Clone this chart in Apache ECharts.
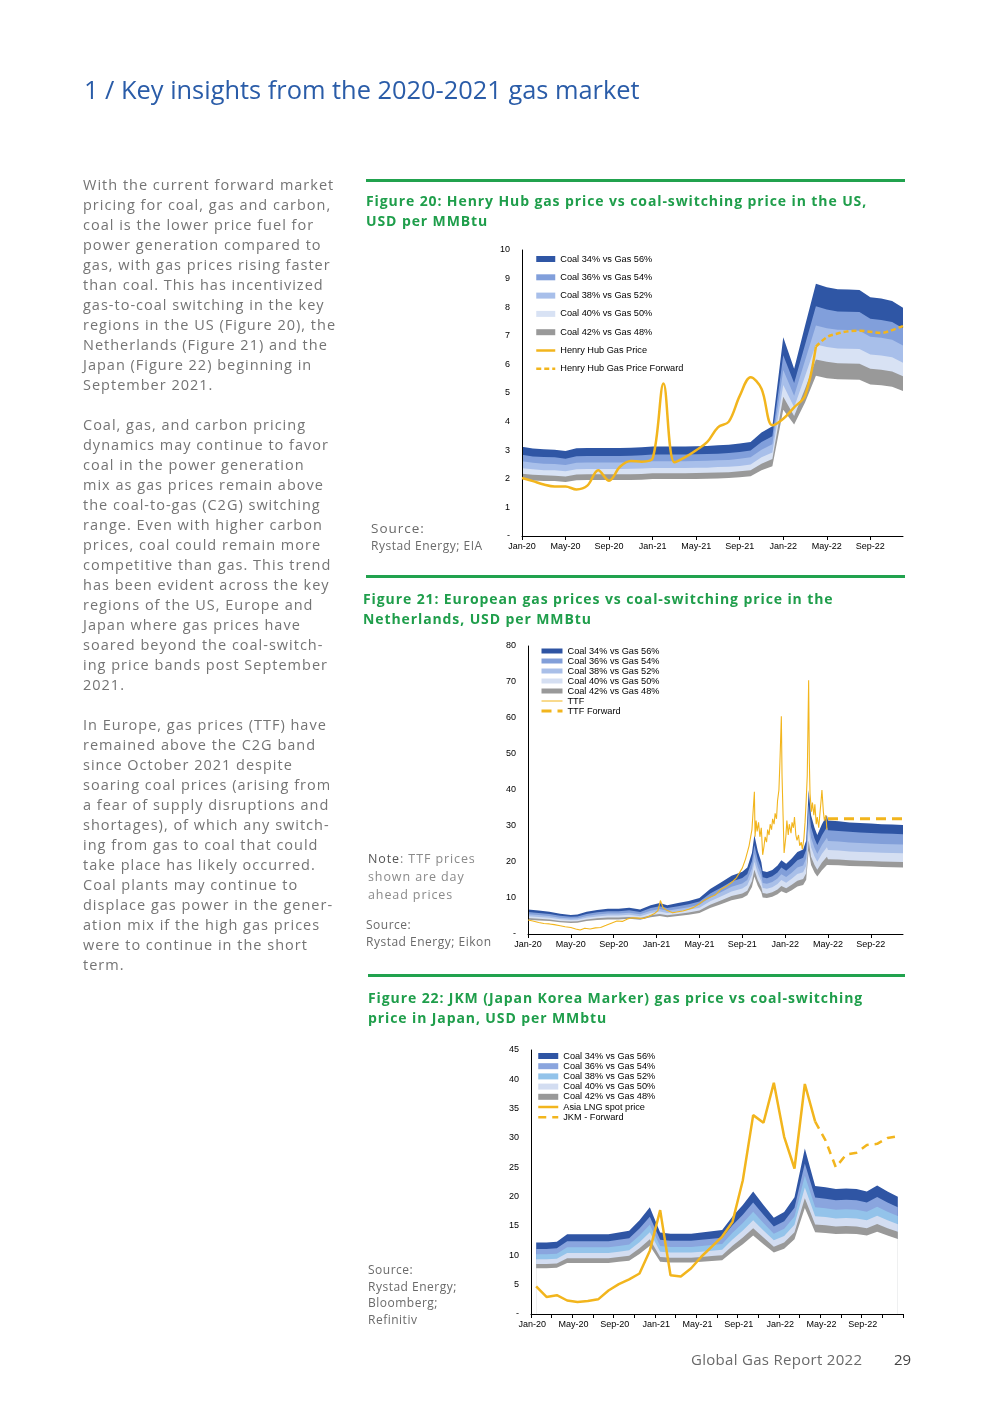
<!DOCTYPE html>
<html><head><meta charset="utf-8">
<script src="https://cdn.jsdelivr.net/npm/echarts@6/dist/echarts.min.js"></script>
<style>
html,body{margin:0;padding:0;background:#fff;}
body{width:987px;height:1403px;position:relative;overflow:hidden;font-family:'Open Sans',sans-serif;}
#chart{position:absolute;left:0;top:0;width:987px;height:1403px;}
.t{position:absolute;white-space:nowrap;}
#title{left:84px;top:74px;font-size:25.4px;line-height:30px;color:#2a5ca8;}
#body{left:83px;top:175px;font-size:14.5px;line-height:20px;color:#747474;letter-spacing:1px;}
.rule{position:absolute;height:3px;background:#21a24e;}
.ft{font-size:14px;line-height:20px;font-weight:bold;color:#1f9e4b;letter-spacing:0.9px;}
.src{color:#6a6a6a;letter-spacing:0.5px;}
</style></head><body>
<div id="chart"></div>
<div class="t" id="title">1 / Key insights from the 2020-2021 gas market</div>
<div class="t" id="body">With the current forward market<br>pricing for coal, gas and carbon,<br>coal is the lower price fuel for<br>power generation compared to<br>gas, with gas prices rising faster<br>than coal. This has incentivized<br>gas-to-coal switching in the key<br>regions in the US (Figure 20), the<br>Netherlands (Figure 21) and the<br>Japan (Figure 22) beginning in<br>September 2021.<br><br>Coal, gas, and carbon pricing<br>dynamics may continue to favor<br>coal in the power generation<br>mix as gas prices remain above<br>the coal-to-gas (C2G) switching<br>range. Even with higher carbon<br>prices, coal could remain more<br>competitive than gas. This trend<br>has been evident across the key<br>regions of the US, Europe and<br>Japan where gas prices have<br>soared beyond the coal-switch-<br>ing price bands post September<br>2021.<br><br>In Europe, gas prices (TTF) have<br>remained above the C2G band<br>since October 2021 despite<br>soaring coal prices (arising from<br>a fear of supply disruptions and<br>shortages), of which any switch-<br>ing from gas to coal that could<br>take place has likely occurred.<br>Coal plants may continue to<br>displace gas power in the gener-<br>ation mix if the high gas prices<br>were to continue in the short<br>term.</div>

<div class="rule" style="left:366px;top:179px;width:539px;"></div>
<div class="t ft" style="left:366px;top:191px;">Figure 20: Henry Hub gas price vs coal-switching price in the US,<br>USD per MMBtu</div>
<div class="t src" style="left:371px;top:519px;font-size:13.5px;line-height:18px;letter-spacing:1px;">Source:</div>
<div class="t src" style="left:371px;top:537px;font-size:12px;line-height:18px;">Rystad Energy; EIA</div>

<div class="rule" style="left:366px;top:575px;width:539px;"></div>
<div class="t ft" style="left:363px;top:589px;">Figure 21: European gas prices vs coal-switching price in the<br>Netherlands, USD per MMBtu</div>
<div class="t src" style="left:368px;top:850px;font-size:12.5px;line-height:18px;letter-spacing:0.9px;color:#8a8a8a;"><span style="color:#555;">Note</span>: TTF prices<br>shown are day<br>ahead prices</div>
<div class="t src" style="left:366px;top:916px;font-size:12px;line-height:17px;">Source:<br>Rystad Energy; Eikon</div>

<div class="rule" style="left:368px;top:974px;width:537px;"></div>
<div class="t ft" style="left:368px;top:988px;">Figure 22: JKM (Japan Korea Marker) gas price vs coal-switching<br>price in Japan, USD per MMbtu</div>
<div class="t src" style="left:368px;top:1262px;font-size:12px;line-height:16.7px;">Source:<br>Rystad Energy;<br>Bloomberg;<br>Refinitiv</div>

<div class="t" style="left:691px;top:1349px;font-size:15px;line-height:20px;color:#6a6a6a;letter-spacing:0.3px;">Global Gas Report 2022</div>
<div class="t" style="left:894px;top:1349px;font-size:15px;line-height:20px;color:#444;">29</div>

<script>
// ---------- shared categories ----------
const months = ['Jan-20','Feb-20','Mar-20','Apr-20','May-20','Jun-20','Jul-20','Aug-20','Sep-20','Oct-20','Nov-20','Dec-20',
  'Jan-21','Feb-21','Mar-21','Apr-21','May-21','Jun-21','Jul-21','Aug-21','Sep-21','Oct-21','Nov-21','Dec-21',
  'Jan-22','Feb-22','Mar-22','Apr-22','May-22','Jun-22','Jul-22','Aug-22','Sep-22','Oct-22','Nov-22','Dec-22'];
const bandNames = ['Coal 34% vs Gas 56%','Coal 36% vs Gas 54%','Coal 38% vs Gas 52%','Coal 40% vs Gas 50%','Coal 42% vs Gas 48%'];

// ---------- Figure 20: US (monthly) ----------
const us34 = [3.12,3.06,3.03,3.02,2.97,3.07,3.08,3.08,3.08,3.08,3.09,3.10,3.13,3.13,3.13,3.13,3.14,3.15,3.17,3.19,3.23,3.29,3.62,3.84,6.95,5.85,7.35,8.82,8.70,8.63,8.62,8.60,8.35,8.30,8.22,7.98];
const us36 = [2.84,2.78,2.76,2.75,2.70,2.79,2.80,2.80,2.80,2.80,2.81,2.82,2.85,2.85,2.85,2.85,2.86,2.87,2.88,2.90,2.94,2.99,3.29,3.49,6.32,5.35,6.69,8.03,7.92,7.85,7.84,7.83,7.60,7.55,7.48,7.26];
const us38 = [2.61,2.56,2.53,2.52,2.48,2.56,2.57,2.57,2.57,2.57,2.58,2.59,2.61,2.61,2.61,2.61,2.62,2.63,2.65,2.66,2.70,2.75,3.02,3.21,5.80,4.90,6.14,7.36,7.26,7.21,7.20,7.18,6.97,6.93,6.86,6.66];
const us40 = [2.37,2.33,2.30,2.30,2.26,2.33,2.34,2.34,2.34,2.34,2.35,2.36,2.38,2.38,2.38,2.38,2.39,2.39,2.41,2.42,2.45,2.50,2.75,2.92,5.28,4.50,5.59,6.70,6.61,6.56,6.55,6.54,6.35,6.31,6.25,6.06];
const us42 = [2.18,2.14,2.12,2.11,2.08,2.15,2.16,2.16,2.16,2.16,2.16,2.17,2.19,2.19,2.19,2.19,2.20,2.21,2.22,2.23,2.26,2.30,2.53,2.69,4.87,4.20,5.15,6.17,6.09,6.04,6.03,6.02,5.85,5.81,5.75,5.59];
const usBase = [1.98,1.94,1.92,1.92,1.89,1.95,1.96,1.96,1.96,1.96,1.96,1.97,1.99,1.99,1.99,1.99,1.99,2.00,2.01,2.03,2.05,2.09,2.30,2.44,4.41,3.90,4.67,5.60,5.52,5.48,5.47,5.46,5.30,5.27,5.22,5.07];
const hhPrice = [2.03,1.92,1.80,1.73,1.73,1.63,1.76,2.30,1.93,2.42,2.62,2.60,2.71,5.33,2.58,2.76,3.00,3.28,3.80,4.00,4.90,5.55,5.15,3.87,4.10,4.50,4.90,6.62,null,null,null,null,null,null,null,null];
const hhForward = [null,null,null,null,null,null,null,null,null,null,null,null,null,null,null,null,null,null,null,null,null,null,null,null,null,null,null,6.62,6.95,7.08,7.16,7.18,7.14,7.10,7.20,7.34];

// ---------- Figure 21: Netherlands ----------
const nlDates = ['2020-01-01','2020-02-01','2020-03-01','2020-04-01','2020-05-01','2020-05-20','2020-06-15','2020-07-15','2020-08-15','2020-09-15',
  '2020-10-15','2020-11-15','2020-12-15','2021-01-10','2021-02-01','2021-03-01','2021-04-01','2021-05-01','2021-06-01','2021-07-01',
  '2021-08-01','2021-09-01','2021-09-15','2021-09-28','2021-10-05','2021-10-15','2021-10-25','2021-10-29','2021-11-10','2021-11-25',
  '2021-12-10','2021-12-21','2022-01-04','2022-01-20','2022-02-05','2022-02-20','2022-02-28','2022-03-07','2022-03-14','2022-03-24',
  '2022-04-01','2022-04-14','2022-04-28','2022-05-01','2022-06-01','2022-07-01','2022-08-01','2022-09-01','2022-10-01','2022-11-01','2022-12-01'];
const nl34 = [6.8,6.5,6.2,5.6,5.3,5.4,6.2,6.7,7.0,7.0, 7.3,6.8,8.0,8.6,8.0,8.6,9.2,10.0,12.5,14.3, 16.2,17.3,18.5,22.5,27.5,23.0,20.0,17.5,17.2,17.8, 19.0,20.5,19.5,21.0,22.8,23.5,26.0,40.0,33.0,29.5, 27.5,30.5,33.0,31.5,31.3,31.0,30.8,30.7,30.5,30.4,30.3];
const nl36 = [6.12,5.85,5.58,5.04,4.77,4.86,5.58,6.03,6.30,6.30, 6.57,6.12,7.20,7.74,7.20,7.74,8.28,9.00,11.25,12.87, 14.58,15.57,16.65,20.25,24.75,20.70,18.00,15.75,15.48,16.02, 17.10,18.45,17.55,18.90,20.52,21.15,23.40,36.00,29.70,26.55, 24.75,27.45,29.70,28.82,28.64,28.37,28.18,28.09,27.91,27.82,27.72];
const nl38 = [5.51,5.27,5.02,4.54,4.29,4.37,5.02,5.43,5.67,5.67, 5.91,5.51,6.48,6.97,6.48,6.97,7.45,8.10,10.13,11.58, 13.12,14.01,14.99,18.23,22.28,18.63,16.20,14.18,13.93,14.42, 15.39,16.61,15.80,17.01,18.47,19.04,21.06,32.40,26.73,23.90, 22.28,24.71,26.73,25.83,25.67,25.42,25.26,25.17,25.01,24.93,24.85];
const nl40 = [4.96,4.75,4.53,4.09,3.87,3.94,4.53,4.89,5.11,5.11, 5.33,4.96,5.84,6.28,5.84,6.28,6.72,7.30,9.13,10.44, 11.83,12.63,13.51,16.43,20.08,16.79,14.60,12.78,12.56,12.99, 13.87,14.97,14.24,15.33,16.64,17.16,18.98,29.20,24.09,21.54, 20.08,22.27,24.09,23.31,23.16,22.94,22.79,22.72,22.57,22.50,22.42];
const nl42 = [4.42,4.23,4.03,3.64,3.45,3.51,4.03,4.36,4.55,4.55, 4.75,4.42,5.20,5.59,5.20,5.59,5.98,6.50,8.13,9.30, 10.53,11.25,12.03,14.63,17.88,14.95,13.00,11.38,11.18,11.57, 12.35,13.33,12.68,13.65,14.82,15.28,16.90,26.00,21.45,19.18, 17.88,19.83,21.45,20.79,20.66,20.46,20.33,20.26,20.13,20.06,20.00];
const nlBase = [3.94,3.77,3.60,3.25,3.07,3.13,3.60,3.89,4.06,4.06, 4.23,3.94,4.64,4.99,4.64,4.99,5.34,5.80,7.25,8.29, 9.40,10.03,10.73,13.05,15.95,13.34,11.60,10.15,9.98,10.32, 11.02,11.89,11.31,12.18,13.22,13.63,15.08,23.20,19.14,17.11, 15.95,17.69,19.14,19.22,19.09,18.91,18.79,18.73,18.61,18.54,18.48];
const ttfDaily = [['2020-01-01',3.9],['2020-01-15',3.6],['2020-02-01',3.2],['2020-02-15',2.9],['2020-03-01',2.8],['2020-03-15',2.6],['2020-04-01',2.3],['2020-04-15',2.0],
  ['2020-05-01',1.8],['2020-05-15',1.4],['2020-05-28',1.1],['2020-06-10',1.6],['2020-06-25',1.4],['2020-07-10',1.7],['2020-07-25',1.8],['2020-08-10',2.4],
  ['2020-08-25',3.0],['2020-09-10',3.6],['2020-09-25',3.5],['2020-10-10',4.2],['2020-10-25',4.5],['2020-11-10',4.4],['2020-11-25',4.3],['2020-12-10',4.9],
  ['2020-12-25',5.6],['2021-01-05',6.5],['2021-01-12',9.3],['2021-01-20',7.3],['2021-02-01',6.5],['2021-02-15',5.9],['2021-03-01',6.2],['2021-03-15',6.4],
  ['2021-04-01',6.9],['2021-04-15',7.4],['2021-05-01',8.4],['2021-05-15',9.4],['2021-06-01',10.2],['2021-06-15',10.8],['2021-07-01',12.4],['2021-07-15',13.1],
  ['2021-08-01',14.3],['2021-08-15',15.6],['2021-09-01',18.3],['2021-09-10',20.8],['2021-09-20',24.5],['2021-09-28',29.0],['2021-10-05',39.5],['2021-10-07',27.0],
  ['2021-10-10',31.5],['2021-10-13',28.5],['2021-10-17',31.0],['2021-10-21',27.0],['2021-10-25',29.5],['2021-10-29',22.0],['2021-11-02',24.5],['2021-11-05',27.0],
  ['2021-11-09',25.5],['2021-11-12',29.0],['2021-11-16',27.5],['2021-11-19',30.5],['2021-11-23',29.0],['2021-11-26',32.0],['2021-11-30',30.5],['2021-12-03',33.5],
  ['2021-12-07',32.0],['2021-12-10',37.0],['2021-12-14',40.0],['2021-12-17',48.0],['2021-12-21',60.5],['2021-12-23',44.0],['2021-12-26',33.0],['2021-12-29',22.5],
  ['2022-01-03',27.0],['2022-01-06',31.5],['2022-01-10',27.5],['2022-01-13',30.5],['2022-01-18',28.0],['2022-01-21',31.0],['2022-01-25',29.5],['2022-01-28',32.5],
  ['2022-02-01',27.5],['2022-02-04',26.0],['2022-02-08',27.5],['2022-02-11',24.5],['2022-02-15',25.5],['2022-02-18',23.5],['2022-02-22',26.5],['2022-02-25',31.0],
  ['2022-02-28',37.0],['2022-03-03',44.0],['2022-03-07',70.5],['2022-03-09',48.0],['2022-03-11',39.0],['2022-03-15',34.0],['2022-03-18',36.5],['2022-03-22',33.0],
  ['2022-03-25',36.0],['2022-03-29',30.5],['2022-04-01',32.5],['2022-04-05',29.5],['2022-04-08',33.0],['2022-04-12',37.5],['2022-04-14',40.0],['2022-04-18',34.0],
  ['2022-04-21',31.5],['2022-04-25',33.0],['2022-04-28',29.0]];
const ttfForward = [['2022-05-01',32.0],['2022-06-01',32.0],['2022-07-01',32.0],['2022-08-01',32.0],['2022-09-01',32.0],['2022-10-01',32.0],['2022-11-01',32.0],['2022-12-01',32.0]];

// ---------- Figure 22: Japan (monthly) ----------
const jp34 = [12.2,12.2,12.3,13.6,13.6,13.6,13.6,13.6,13.9,14.2,16.0,18.2,13.9,13.7,13.7,13.7,13.9,14.1,14.3,16.6,18.6,20.9,18.6,16.4,17.4,19.9,28.2,21.8,21.6,21.3,21.4,21.3,20.9,21.9,20.9,20.0];
const jp36 = [11.10,11.10,11.19,12.38,12.38,12.38,12.38,12.38,12.65,12.92,14.56,16.56,12.65,12.47,12.47,12.47,12.65,12.83,13.01,15.11,16.93,19.02,16.93,14.92,15.83,18.11,25.66,19.84,19.66,19.38,19.47,19.38,19.02,19.93,19.02,18.20];
const jp38 = [10.19,10.19,10.27,11.36,11.36,11.36,11.36,11.36,11.61,11.86,13.36,15.20,11.61,11.44,11.44,11.44,11.61,11.77,11.94,13.86,15.53,17.45,15.53,13.69,14.53,16.62,23.55,18.20,18.04,17.79,17.87,17.79,17.45,18.29,17.45,16.70];
const jp40 = [9.33,9.33,9.41,10.40,10.40,10.40,10.40,10.40,10.63,10.86,12.24,13.92,10.63,10.48,10.48,10.48,10.63,10.79,10.94,12.70,14.23,15.99,14.23,12.55,13.31,15.22,21.57,16.68,16.52,16.29,16.37,16.29,15.99,16.75,15.99,15.30];
const jp42 = [8.54,8.54,8.61,9.52,9.52,9.52,9.52,9.52,9.73,9.94,11.20,12.74,9.73,9.59,9.59,9.59,9.73,9.87,10.01,11.62,13.02,14.63,13.02,11.48,12.18,13.93,19.74,15.26,15.12,14.91,14.98,14.91,14.63,15.33,14.63,14.00];
const jpBase = [7.81,7.81,7.87,8.70,8.70,8.70,8.70,8.70,8.90,9.09,10.24,11.65,8.90,8.77,8.77,8.77,8.90,9.02,9.15,10.62,11.90,13.38,11.90,10.50,11.14,12.74,18.05,13.95,13.82,13.63,13.70,13.63,13.38,14.02,13.38,12.80];
const jkmSpot = [4.7,2.9,3.2,2.3,2.05,2.2,2.5,4.0,5.1,5.9,6.9,10.8,17.7,6.6,6.4,7.8,9.8,11.5,13.2,15.7,22.8,33.9,32.6,39.4,30.2,24.8,39.2,32.8,null,null,null,null,null,null,null,null];
const jkmForward = [null,null,null,null,null,null,null,null,null,null,null,null,null,null,null,null,null,null,null,null,null,null,null,null,null,null,null,32.8,29.6,25.0,27.2,27.5,28.8,29.0,30.0,30.3];

// ---------- styling ----------
const FONT = "'Liberation Sans', Arial, sans-serif";
const YEL = '#f2b51d';
const pal20 = ['#2f56a5','#819fdb','#a8bfea','#d8e2f4','#999999'];
const pal21 = ['#2e54a3','#829fd9','#a9bfe8','#d5dff2','#999999'];
const pal22 = ['#2f55a4','#8aa5de','#93c3ea','#d3ddf1','#999999'];

function monthIndex(s){
  const p = s.split('-').map(Number);
  const dim = new Date(p[0], p[1], 0).getDate();
  return (p[0]-2020)*12 + (p[1]-1) + (p[2]-1)/dim;
}

function bands(levels, pal, gi, toXY){
  const out = [];
  levels.forEach(function(arr, k){
    const last = k === levels.length - 1;
    const color = last ? '#ffffff' : pal[k];
    out.push({
      type:'line', name: last ? '_base' : bandNames[k], xAxisIndex:gi, yAxisIndex:gi,
      data: toXY ? toXY(arr) : arr, symbol:'none', silent:true, z:2,
      lineStyle:{width:0}, itemStyle:{color:color}, areaStyle:{color:color, opacity:1}
    });
  });
  return out;
}
function lineS(name, data, gi, width, type, smooth){
  return {type:'line', name:name, xAxisIndex:gi, yAxisIndex:gi, data:data, symbol:'none', silent:true, z:5,
    smooth:smooth, connectNulls:false, itemStyle:{color:YEL}, lineStyle:{color:YEL, width:width, type:type}};
}
function legendData(pal, lines){
  const d = bandNames.map(function(n,k){ return {name:n, icon:'rect', itemStyle:{color:pal[k], borderWidth:0}}; });
  lines.forEach(function(l){ d.push({name:l[0], itemStyle:{color:'rgba(0,0,0,0)', borderWidth:0}, lineStyle:{color:YEL, width:l[1], type:l[2]}}); });
  return d;
}
function legend(left, top, gap, iw, ih, data){
  return {left:left, top:top, orient:'vertical', padding:0, itemGap:gap, itemWidth:iw, itemHeight:ih, selectedMode:false,
    textStyle:{fontFamily:FONT, fontSize:9.2, lineHeight:10, color:'#000'}, data:data};
}
const axisLine = {show:true, lineStyle:{color:'#000', width:1}};
const labelBase = {fontFamily:FONT, fontSize:9, color:'#000'};
function yAx(gi, max, interval){
  return {type:'value', gridIndex:gi, min:0, max:max, interval:interval, z:4,
    axisLine:axisLine, axisTick:{show:false}, splitLine:{show:false},
    axisLabel:Object.assign({margin:12, formatter:function(v){ return v===0 ? '-' : String(v); }}, labelBase)};
}

const nlXY = function(arr){ return arr.map(function(v,i){ return [monthIndex(nlDates[i]), v]; }); };
const pairXY = function(arr){ return arr.map(function(p){ return [monthIndex(p[0]), p[1]]; }); };
const tickVals = [0,4,8,12,16,20,24,28,32];

const option = {
  animation:false,
  textStyle:{fontFamily:FONT},
  grid:[
    {left:522, top:250, width:381, height:286, outerBoundsMode:'none'},
    {left:528, top:646, width:375, height:288, outerBoundsMode:'none'},
    {left:531, top:1050, width:372, height:264, outerBoundsMode:'none'}
  ],
  xAxis:[
    {type:'category', gridIndex:0, data:months, boundaryGap:false, z:4, axisLine:axisLine,
      axisTick:{show:true, interval:3, length:4, lineStyle:{color:'#000'}},
      axisLabel:Object.assign({interval:3, margin:6}, labelBase), splitLine:{show:false}},
    {type:'value', gridIndex:1, min:0, max:35, z:4, axisLine:axisLine,
      axisTick:{show:true, customValues:tickVals, length:4, lineStyle:{color:'#000'}},
      axisLabel:Object.assign({customValues:tickVals, margin:6, formatter:function(v){ return months[Math.round(v)]; }}, labelBase),
      splitLine:{show:false}},
    {type:'category', gridIndex:2, data:months, boundaryGap:true, z:4, axisLine:axisLine,
      axisTick:{show:true, interval:1, length:4, lineStyle:{color:'#000'}},
      axisLabel:Object.assign({interval:3, margin:6, padding:[0,8,0,0]}, labelBase), splitLine:{show:false}}
  ],
  yAxis:[ yAx(0,10,1), yAx(1,80,10), yAx(2,45,5) ],
  legend:[
    legend(535, 254, 8.3, 19, 6, legendData(pal20, [['Henry Hub Gas Price',2.5,'solid'],['Henry Hub Gas Price Forward',2.5,[5,3]]])),
    legend(540, 646, 0, 21, 5, legendData(pal21, [['TTF',1,'solid'],['TTF Forward',3,[10,6]]])),
    legend(537, 1051, 0.2, 20, 6, legendData(pal22, [['Asia LNG spot price',2.5,'solid'],['JKM - Forward',2.5,[8,6]]]))
  ],
  series: [].concat(
    bands([us34,us36,us38,us40,us42,usBase], pal20, 0),
    [lineS('Henry Hub Gas Price', hhPrice, 0, 2.5, 'solid', 0.35),
     lineS('Henry Hub Gas Price Forward', hhForward, 0, 2.5, [5,3], 0.35)],
    bands([nl34,nl36,nl38,nl40,nl42,nlBase], pal21, 1, nlXY),
    [lineS('TTF', pairXY(ttfDaily), 1, 1.1, 'solid', false),
     lineS('TTF Forward', pairXY(ttfForward), 1, 3, [10,6], false)],
    bands([jp34,jp36,jp38,jp40,jp42,jpBase], pal22, 2),
    [lineS('Asia LNG spot price', jkmSpot, 2, 2.5, 'solid', false),
     lineS('JKM - Forward', jkmForward, 2, 2.5, [8,6], false)]
  )
};
const chart = echarts.init(document.getElementById('chart'), null, {renderer:'canvas'});
chart.setOption(option);
</script>
</body></html>
